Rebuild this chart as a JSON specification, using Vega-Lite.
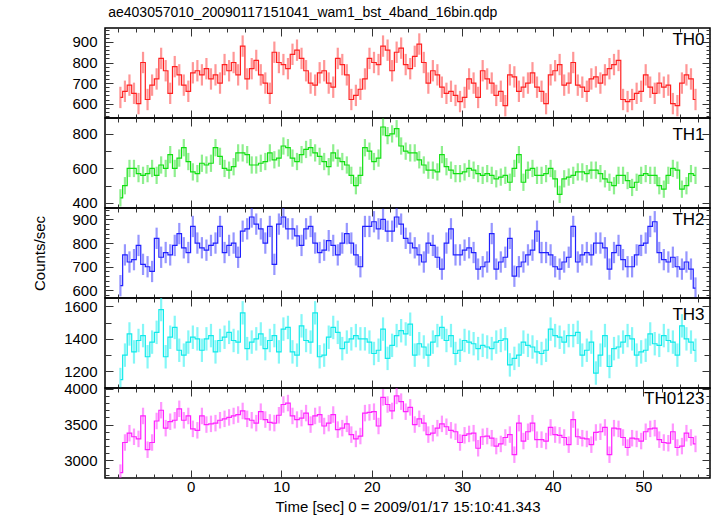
{
"$schema":"https://vega.github.io/schema/vega-lite/v6.json",
"background":"white",
"bounds":"flush",
"padding":{"left":32,"top":5,"right":5,"bottom":2},
"title":{"text":"ae403057010_20090117151041_wam1_bst_4band_16bin.qdp","anchor":"start","frame":"bounds","dx":76,"fontSize":14,"fontWeight":"normal","font":"Liberation Sans","color":"black","offset":2},
"config":{"view":{"stroke":"black","strokeWidth":1.5},"concat":{"spacing":0},
"axis":{"domain":false,"grid":false,"tickColor":"#333","tickWidth":1,"labelFont":"Liberation Sans","labelFontSize":15,"labelColor":"black","titleFont":"Liberation Sans","titleFontSize":15,"titleFontWeight":"normal","titleColor":"black","labelPadding":16,"labelFlush":false,"labelOverlap":false,"minExtent":0,"format":"d"},
"title":{"font":"Liberation Sans","fontWeight":"normal","color":"black"}},
"data":{"values":[
{"t":-7.75,"a":630,"b":430,"c":620,"d":1150,"e":2830},
{"t":-7.25,"a":660,"b":500,"c":750,"d":1300,"e":3250},
{"t":-6.75,"a":690,"b":600,"c":720,"d":1430,"e":3380},
{"t":-6.25,"a":650,"b":600,"c":730,"d":1320,"e":3330},
{"t":-5.75,"a":600,"b":570,"c":790,"d":1390,"e":3300},
{"t":-5.25,"a":800,"b":560,"c":710,"d":1420,"e":3620},
{"t":-4.75,"a":620,"b":570,"c":700,"d":1290,"e":3150},
{"t":-4.25,"a":690,"b":600,"c":680,"d":1380,"e":3250},
{"t":-3.75,"a":720,"b":560,"c":820,"d":1440,"e":3550},
{"t":-3.25,"a":820,"b":620,"c":740,"d":1580,"e":3700},
{"t":-2.75,"a":760,"b":600,"c":760,"d":1290,"e":3450},
{"t":-2.25,"a":650,"b":680,"c":750,"d":1410,"e":3540},
{"t":-1.75,"a":780,"b":600,"c":790,"d":1470,"e":3560},
{"t":-1.25,"a":740,"b":660,"c":840,"d":1330,"e":3720},
{"t":-0.75,"a":690,"b":720,"c":780,"d":1300,"e":3560},
{"t":-0.25,"a":660,"b":640,"c":760,"d":1380,"e":3620},
{"t":0.25,"a":750,"b":580,"c":870,"d":1410,"e":3440},
{"t":0.75,"a":760,"b":570,"c":800,"d":1400,"e":3420},
{"t":1.25,"a":740,"b":630,"c":780,"d":1330,"e":3620},
{"t":1.75,"a":770,"b":620,"c":770,"d":1400,"e":3500},
{"t":2.25,"a":720,"b":630,"c":790,"d":1420,"e":3510},
{"t":2.75,"a":740,"b":720,"c":800,"d":1320,"e":3520},
{"t":3.25,"a":700,"b":670,"c":870,"d":1390,"e":3560},
{"t":3.75,"a":790,"b":600,"c":760,"d":1410,"e":3580},
{"t":4.25,"a":760,"b":590,"c":790,"d":1440,"e":3600},
{"t":4.75,"a":800,"b":610,"c":800,"d":1390,"e":3620},
{"t":5.25,"a":740,"b":690,"c":740,"d":1380,"e":3640},
{"t":5.75,"a":880,"b":690,"c":850,"d":1560,"e":3690},
{"t":6.25,"a":720,"b":680,"c":860,"d":1340,"e":3580},
{"t":6.75,"a":770,"b":620,"c":910,"d":1380,"e":3560},
{"t":7.25,"a":810,"b":620,"c":880,"d":1400,"e":3520},
{"t":7.75,"a":740,"b":630,"c":860,"d":1430,"e":3680},
{"t":8.25,"a":700,"b":640,"c":800,"d":1340,"e":3570},
{"t":8.75,"a":650,"b":690,"c":870,"d":1390,"e":3530},
{"t":9.25,"a":850,"b":650,"c":710,"d":1420,"e":3520},
{"t":9.75,"a":800,"b":660,"c":880,"d":1320,"e":3630},
{"t":10.25,"a":790,"b":730,"c":910,"d":1460,"e":3780},
{"t":10.75,"a":770,"b":720,"c":860,"d":1470,"e":3800},
{"t":11.25,"a":840,"b":660,"c":860,"d":1320,"e":3620},
{"t":11.75,"a":860,"b":640,"c":830,"d":1300,"e":3570},
{"t":12.25,"a":820,"b":680,"c":790,"d":1480,"e":3590},
{"t":12.75,"a":760,"b":710,"c":860,"d":1390,"e":3660},
{"t":13.25,"a":700,"b":720,"c":870,"d":1380,"e":3500},
{"t":13.75,"a":690,"b":690,"c":800,"d":1560,"e":3620},
{"t":14.25,"a":750,"b":670,"c":760,"d":1290,"e":3640},
{"t":14.75,"a":760,"b":640,"c":770,"d":1300,"e":3480},
{"t":15.25,"a":700,"b":610,"c":810,"d":1410,"e":3520},
{"t":15.75,"a":680,"b":690,"c":790,"d":1470,"e":3640},
{"t":16.25,"a":820,"b":660,"c":750,"d":1440,"e":3430},
{"t":16.75,"a":790,"b":640,"c":800,"d":1340,"e":3450},
{"t":17.25,"a":740,"b":620,"c":840,"d":1380,"e":3510},
{"t":17.75,"a":620,"b":560,"c":800,"d":1400,"e":3360},
{"t":18.25,"a":640,"b":500,"c":750,"d":1420,"e":3300},
{"t":18.75,"a":670,"b":560,"c":700,"d":1400,"e":3340},
{"t":19.25,"a":720,"b":720,"c":870,"d":1400,"e":3660},
{"t":19.75,"a":820,"b":700,"c":870,"d":1380,"e":3670},
{"t":20.25,"a":800,"b":640,"c":890,"d":1310,"e":3680},
{"t":20.75,"a":790,"b":660,"c":860,"d":1330,"e":3480},
{"t":21.25,"a":880,"b":840,"c":900,"d":1460,"e":3880},
{"t":21.75,"a":860,"b":790,"c":850,"d":1280,"e":3780},
{"t":22.25,"a":760,"b":800,"c":850,"d":1360,"e":3690},
{"t":22.75,"a":850,"b":830,"c":910,"d":1420,"e":3900},
{"t":23.25,"a":870,"b":730,"c":880,"d":1450,"e":3820},
{"t":23.75,"a":790,"b":700,"c":820,"d":1430,"e":3680},
{"t":24.25,"a":770,"b":690,"c":800,"d":1490,"e":3740},
{"t":24.75,"a":830,"b":690,"c":780,"d":1300,"e":3500},
{"t":25.25,"a":890,"b":650,"c":750,"d":1370,"e":3580},
{"t":25.75,"a":800,"b":620,"c":720,"d":1350,"e":3520},
{"t":26.25,"a":700,"b":590,"c":800,"d":1300,"e":3360},
{"t":26.75,"a":760,"b":590,"c":790,"d":1380,"e":3380},
{"t":27.25,"a":740,"b":580,"c":740,"d":1420,"e":3450},
{"t":27.75,"a":680,"b":680,"c":690,"d":1470,"e":3510},
{"t":28.25,"a":650,"b":610,"c":800,"d":1390,"e":3470},
{"t":28.75,"a":660,"b":590,"c":860,"d":1420,"e":3420},
{"t":29.25,"a":640,"b":570,"c":750,"d":1310,"e":3400},
{"t":29.75,"a":610,"b":570,"c":750,"d":1330,"e":3250},
{"t":30.25,"a":630,"b":580,"c":770,"d":1390,"e":3350},
{"t":30.75,"a":720,"b":600,"c":780,"d":1380,"e":3370},
{"t":31.25,"a":700,"b":590,"c":760,"d":1370,"e":3380},
{"t":31.75,"a":630,"b":570,"c":690,"d":1340,"e":3170},
{"t":32.25,"a":760,"b":560,"c":700,"d":1360,"e":3330},
{"t":32.75,"a":720,"b":570,"c":720,"d":1350,"e":3340},
{"t":33.25,"a":700,"b":560,"c":840,"d":1340,"e":3310},
{"t":33.75,"a":640,"b":540,"c":690,"d":1380,"e":3200},
{"t":34.25,"a":660,"b":550,"c":720,"d":1390,"e":3230},
{"t":34.75,"a":590,"b":560,"c":740,"d":1400,"e":3320},
{"t":35.25,"a":740,"b":520,"c":820,"d":1240,"e":3360},
{"t":35.75,"a":730,"b":600,"c":660,"d":1280,"e":3080},
{"t":36.25,"a":660,"b":680,"c":700,"d":1300,"e":3520},
{"t":36.75,"a":680,"b":520,"c":720,"d":1380,"e":3270},
{"t":37.25,"a":700,"b":590,"c":750,"d":1360,"e":3400},
{"t":37.75,"a":750,"b":600,"c":770,"d":1350,"e":3520},
{"t":38.25,"a":680,"b":560,"c":850,"d":1320,"e":3290},
{"t":38.75,"a":660,"b":560,"c":760,"d":1310,"e":3290},
{"t":39.25,"a":600,"b":570,"c":760,"d":1330,"e":3270},
{"t":39.75,"a":740,"b":600,"c":750,"d":1460,"e":3460},
{"t":40.25,"a":760,"b":540,"c":700,"d":1420,"e":3360},
{"t":40.75,"a":790,"b":450,"c":690,"d":1410,"e":3350},
{"t":41.25,"a":690,"b":540,"c":720,"d":1380,"e":3320},
{"t":41.75,"a":700,"b":550,"c":740,"d":1420,"e":3220},
{"t":42.25,"a":800,"b":560,"c":870,"d":1420,"e":3570},
{"t":42.75,"a":690,"b":580,"c":720,"d":1440,"e":3330},
{"t":43.25,"a":680,"b":580,"c":750,"d":1300,"e":3310},
{"t":43.75,"a":660,"b":570,"c":760,"d":1330,"e":3300},
{"t":44.25,"a":720,"b":590,"c":750,"d":1380,"e":3220},
{"t":44.75,"a":730,"b":590,"c":800,"d":1190,"e":3390},
{"t":45.25,"a":700,"b":570,"c":800,"d":1300,"e":3400},
{"t":45.75,"a":740,"b":540,"c":780,"d":1420,"e":3460},
{"t":46.25,"a":770,"b":520,"c":690,"d":1230,"e":3080},
{"t":46.75,"a":790,"b":500,"c":760,"d":1340,"e":3450},
{"t":47.25,"a":810,"b":560,"c":790,"d":1350,"e":3440},
{"t":47.75,"a":620,"b":560,"c":730,"d":1380,"e":3320},
{"t":48.25,"a":610,"b":530,"c":700,"d":1420,"e":3180},
{"t":48.75,"a":620,"b":490,"c":700,"d":1400,"e":3310},
{"t":49.25,"a":650,"b":520,"c":750,"d":1300,"e":3300},
{"t":49.75,"a":660,"b":560,"c":790,"d":1320,"e":3270},
{"t":50.25,"a":740,"b":570,"c":800,"d":1330,"e":3400},
{"t":50.75,"a":680,"b":560,"c":870,"d":1430,"e":3440},
{"t":51.25,"a":650,"b":560,"c":890,"d":1370,"e":3450},
{"t":51.75,"a":700,"b":500,"c":760,"d":1360,"e":3290},
{"t":52.25,"a":680,"b":480,"c":730,"d":1420,"e":3250},
{"t":52.75,"a":690,"b":560,"c":720,"d":1390,"e":3240},
{"t":53.25,"a":600,"b":600,"c":740,"d":1380,"e":3400},
{"t":53.75,"a":590,"b":590,"c":700,"d":1300,"e":3180},
{"t":54.25,"a":700,"b":480,"c":690,"d":1480,"e":3200},
{"t":54.75,"a":740,"b":500,"c":720,"d":1400,"e":3380},
{"t":55.25,"a":720,"b":570,"c":690,"d":1380,"e":3320},
{"t":55.75,"a":620,"b":560,"c":610,"d":1330,"e":3230}
]},
"vconcat":[
{"width":605,"height":90,
"title":{"text":"TH0","anchor":"end","offset":-26,"dx":-6,"fontSize":17},
"transform":[{"calculate":"datum.a-52","as":"lo"},{"calculate":"datum.a+52","as":"hi"}],
"layer":[
{"mark":{"type":"rule","color":"#ff3030","opacity":0.5,"strokeWidth":2.2,"clip":true},
"encoding":{
"x":{"field":"t","type":"quantitative","scale":{"domain":[-9.45,57.35],"nice":false,"zero":false},"axis":{"orient":"bottom","title":null,"labels":false,"values":[-8,-6,-4,-2,0,2,4,6,8,10,12,14,16,18,20,22,24,26,28,30,32,34,36,38,40,42,44,46,48,50,52,54,56],"tickSize":{"condition":{"test":"datum.value % 10 === 0","value":-8},"value":-4}}},
"y":{"field":"lo","type":"quantitative","scale":{"domain":[530,968],"nice":false,"zero":false},"axis":{"orient":"left","title":null,"values":[540,560,580,600,620,640,660,680,700,720,740,760,780,800,820,840,860,880,900,920,940,960],"labelExpr":"datum.value % 100 === 0 ? datum.label : ''","tickSize":{"condition":{"test":"datum.value % 100 === 0","value":-8},"value":-4}}},
"y2":{"field":"hi"}}},
{"mark":{"type":"line","interpolate":"step","color":"#ff2020","strokeWidth":1.2,"clip":true},
"encoding":{
"x":{"field":"t","type":"quantitative","scale":{"domain":[-9.45,57.35],"nice":false,"zero":false},"axis":{"orient":"top","title":null,"labels":false,"values":[-8,-6,-4,-2,0,2,4,6,8,10,12,14,16,18,20,22,24,26,28,30,32,34,36,38,40,42,44,46,48,50,52,54,56],"tickSize":{"condition":{"test":"datum.value % 10 === 0","value":-8},"value":-4}}},
"y":{"field":"a","type":"quantitative","scale":{"domain":[530,968],"nice":false,"zero":false},"axis":{"orient":"right","title":null,"labels":false,"values":[540,560,580,600,620,640,660,680,700,720,740,760,780,800,820,840,860,880,900,920,940,960],"tickSize":{"condition":{"test":"datum.value % 100 === 0","value":-8},"value":-4}}}}}
],
"resolve":{"axis":{"x":"independent","y":"independent"}}},
{"width":605,"height":90,
"title":{"text":"TH1","anchor":"end","offset":-26,"dx":-6,"fontSize":17},
"transform":[{"calculate":"datum.b-50","as":"lo"},{"calculate":"datum.b+50","as":"hi"}],
"layer":[
{"mark":{"type":"rule","color":"#20e020","opacity":0.5,"strokeWidth":2.2,"clip":true},
"encoding":{
"x":{"field":"t","type":"quantitative","scale":{"domain":[-9.45,57.35],"nice":false,"zero":false},"axis":{"orient":"bottom","title":null,"labels":false,"values":[-8,-6,-4,-2,0,2,4,6,8,10,12,14,16,18,20,22,24,26,28,30,32,34,36,38,40,42,44,46,48,50,52,54,56],"tickSize":{"condition":{"test":"datum.value % 10 === 0","value":-8},"value":-4}}},
"y":{"field":"lo","type":"quantitative","scale":{"domain":[371,892],"nice":false,"zero":false},"axis":{"orient":"left","title":null,"values":[400,500,600,700,800],"labelExpr":"datum.value % 200 === 0 ? datum.label : ''","tickSize":{"condition":{"test":"datum.value % 200 === 0","value":-8},"value":-6}}},
"y2":{"field":"hi"}}},
{"mark":{"type":"line","interpolate":"step","color":"#10e010","strokeWidth":1.2,"clip":true},
"encoding":{
"x":{"field":"t","type":"quantitative","scale":{"domain":[-9.45,57.35],"nice":false,"zero":false},"axis":{"orient":"top","title":null,"labels":false,"values":[-8,-6,-4,-2,0,2,4,6,8,10,12,14,16,18,20,22,24,26,28,30,32,34,36,38,40,42,44,46,48,50,52,54,56],"tickSize":{"condition":{"test":"datum.value % 10 === 0","value":-8},"value":-4}}},
"y":{"field":"b","type":"quantitative","scale":{"domain":[371,892],"nice":false,"zero":false},"axis":{"orient":"right","title":null,"labels":false,"values":[400,500,600,700,800],"tickSize":{"condition":{"test":"datum.value % 200 === 0","value":-8},"value":-6}}}}}
],
"resolve":{"axis":{"x":"independent","y":"independent"}}},
{"width":605,"height":90,
"title":{"text":"TH2","anchor":"end","offset":-26,"dx":-6,"fontSize":17},
"transform":[{"calculate":"datum.c-45","as":"lo"},{"calculate":"datum.c+45","as":"hi"}],
"layer":[
{"mark":{"type":"rule","color":"#3030ff","opacity":0.5,"strokeWidth":2.2,"clip":true},
"encoding":{
"x":{"field":"t","type":"quantitative","scale":{"domain":[-9.45,57.35],"nice":false,"zero":false},"axis":{"orient":"bottom","title":null,"labels":false,"values":[-8,-6,-4,-2,0,2,4,6,8,10,12,14,16,18,20,22,24,26,28,30,32,34,36,38,40,42,44,46,48,50,52,54,56],"tickSize":{"condition":{"test":"datum.value % 10 === 0","value":-8},"value":-4}}},
"y":{"field":"lo","type":"quantitative","scale":{"domain":[568,948],"nice":false,"zero":false},"axis":{"orient":"left","title":"Counts/sec","titlePadding":24,"values":[580,600,620,640,660,680,700,720,740,760,780,800,820,840,860,880,900,920,940],"labelExpr":"datum.value % 100 === 0 ? datum.label : ''","tickSize":{"condition":{"test":"datum.value % 100 === 0","value":-8},"value":-4}}},
"y2":{"field":"hi"}}},
{"mark":{"type":"line","interpolate":"step","color":"#2020ff","strokeWidth":1.2,"clip":true},
"encoding":{
"x":{"field":"t","type":"quantitative","scale":{"domain":[-9.45,57.35],"nice":false,"zero":false},"axis":{"orient":"top","title":null,"labels":false,"values":[-8,-6,-4,-2,0,2,4,6,8,10,12,14,16,18,20,22,24,26,28,30,32,34,36,38,40,42,44,46,48,50,52,54,56],"tickSize":{"condition":{"test":"datum.value % 10 === 0","value":-8},"value":-4}}},
"y":{"field":"c","type":"quantitative","scale":{"domain":[568,948],"nice":false,"zero":false},"axis":{"orient":"right","title":null,"labels":false,"values":[580,600,620,640,660,680,700,720,740,760,780,800,820,840,860,880,900,920,940],"tickSize":{"condition":{"test":"datum.value % 100 === 0","value":-8},"value":-4}}}}}
],
"resolve":{"axis":{"x":"independent","y":"independent"}}},
{"width":605,"height":90,
"title":{"text":"TH3","anchor":"end","offset":-26,"dx":-6,"fontSize":17},
"transform":[{"calculate":"datum.d-72","as":"lo"},{"calculate":"datum.d+72","as":"hi"}],
"layer":[
{"mark":{"type":"rule","color":"#20f0f0","opacity":0.55,"strokeWidth":2.2,"clip":true},
"encoding":{
"x":{"field":"t","type":"quantitative","scale":{"domain":[-9.45,57.35],"nice":false,"zero":false},"axis":{"orient":"bottom","title":null,"labels":false,"values":[-8,-6,-4,-2,0,2,4,6,8,10,12,14,16,18,20,22,24,26,28,30,32,34,36,38,40,42,44,46,48,50,52,54,56],"tickSize":{"condition":{"test":"datum.value % 10 === 0","value":-8},"value":-4}}},
"y":{"field":"lo","type":"quantitative","scale":{"domain":[1098,1651],"nice":false,"zero":false},"axis":{"orient":"left","title":null,"values":[1100,1200,1300,1400,1500,1600],"labelExpr":"datum.value % 200 === 0 ? datum.label : ''","tickSize":{"condition":{"test":"datum.value % 200 === 0","value":-8},"value":-6}}},
"y2":{"field":"hi"}}},
{"mark":{"type":"line","interpolate":"step","color":"#10eaea","strokeWidth":1.2,"clip":true},
"encoding":{
"x":{"field":"t","type":"quantitative","scale":{"domain":[-9.45,57.35],"nice":false,"zero":false},"axis":{"orient":"top","title":null,"labels":false,"values":[-8,-6,-4,-2,0,2,4,6,8,10,12,14,16,18,20,22,24,26,28,30,32,34,36,38,40,42,44,46,48,50,52,54,56],"tickSize":{"condition":{"test":"datum.value % 10 === 0","value":-8},"value":-4}}},
"y":{"field":"d","type":"quantitative","scale":{"domain":[1098,1651],"nice":false,"zero":false},"axis":{"orient":"right","title":null,"labels":false,"values":[1100,1200,1300,1400,1500,1600],"tickSize":{"condition":{"test":"datum.value % 200 === 0","value":-8},"value":-6}}}}}
],
"resolve":{"axis":{"x":"independent","y":"independent"}}},
{"width":605,"height":90,
"title":{"text":"TH0123","anchor":"end","offset":-26,"dx":-6,"fontSize":17},
"transform":[{"calculate":"datum.e-115","as":"lo"},{"calculate":"datum.e+115","as":"hi"}],
"layer":[
{"mark":{"type":"rule","color":"#ff30ff","opacity":0.5,"strokeWidth":2.2,"clip":true},
"encoding":{
"x":{"field":"t","type":"quantitative","scale":{"domain":[-9.45,57.35],"nice":false,"zero":false},"axis":{"orient":"bottom","title":"Time [sec] 0 = 2009/01/17 15:10:41.343","titlePadding":1,"labelPadding":9,"values":[-8,-6,-4,-2,0,2,4,6,8,10,12,14,16,18,20,22,24,26,28,30,32,34,36,38,40,42,44,46,48,50,52,54,56],"labelExpr":"datum.value % 10 === 0 ? datum.label : ''","tickSize":{"condition":{"test":"datum.value % 10 === 0","value":-8},"value":-4}}},
"y":{"field":"lo","type":"quantitative","scale":{"domain":[2755,4010],"nice":false,"zero":false},"axis":{"orient":"left","title":null,"values":[2800,2900,3000,3100,3200,3300,3400,3500,3600,3700,3800,3900,4000],"labelExpr":"datum.value % 500 === 0 ? datum.label : ''","tickSize":{"condition":{"test":"datum.value % 500 === 0","value":-8},"value":-4}}},
"y2":{"field":"hi"}}},
{"mark":{"type":"line","interpolate":"step","color":"#ff20ff","strokeWidth":1.2,"clip":true},
"encoding":{
"x":{"field":"t","type":"quantitative","scale":{"domain":[-9.45,57.35],"nice":false,"zero":false},"axis":{"orient":"top","title":null,"labels":false,"values":[-8,-6,-4,-2,0,2,4,6,8,10,12,14,16,18,20,22,24,26,28,30,32,34,36,38,40,42,44,46,48,50,52,54,56],"tickSize":{"condition":{"test":"datum.value % 10 === 0","value":-8},"value":-4}}},
"y":{"field":"e","type":"quantitative","scale":{"domain":[2755,4010],"nice":false,"zero":false},"axis":{"orient":"right","title":null,"labels":false,"values":[2800,2900,3000,3100,3200,3300,3400,3500,3600,3700,3800,3900,4000],"tickSize":{"condition":{"test":"datum.value % 500 === 0","value":-8},"value":-4}}}}}
],
"resolve":{"axis":{"x":"independent","y":"independent"}}}
]
}
